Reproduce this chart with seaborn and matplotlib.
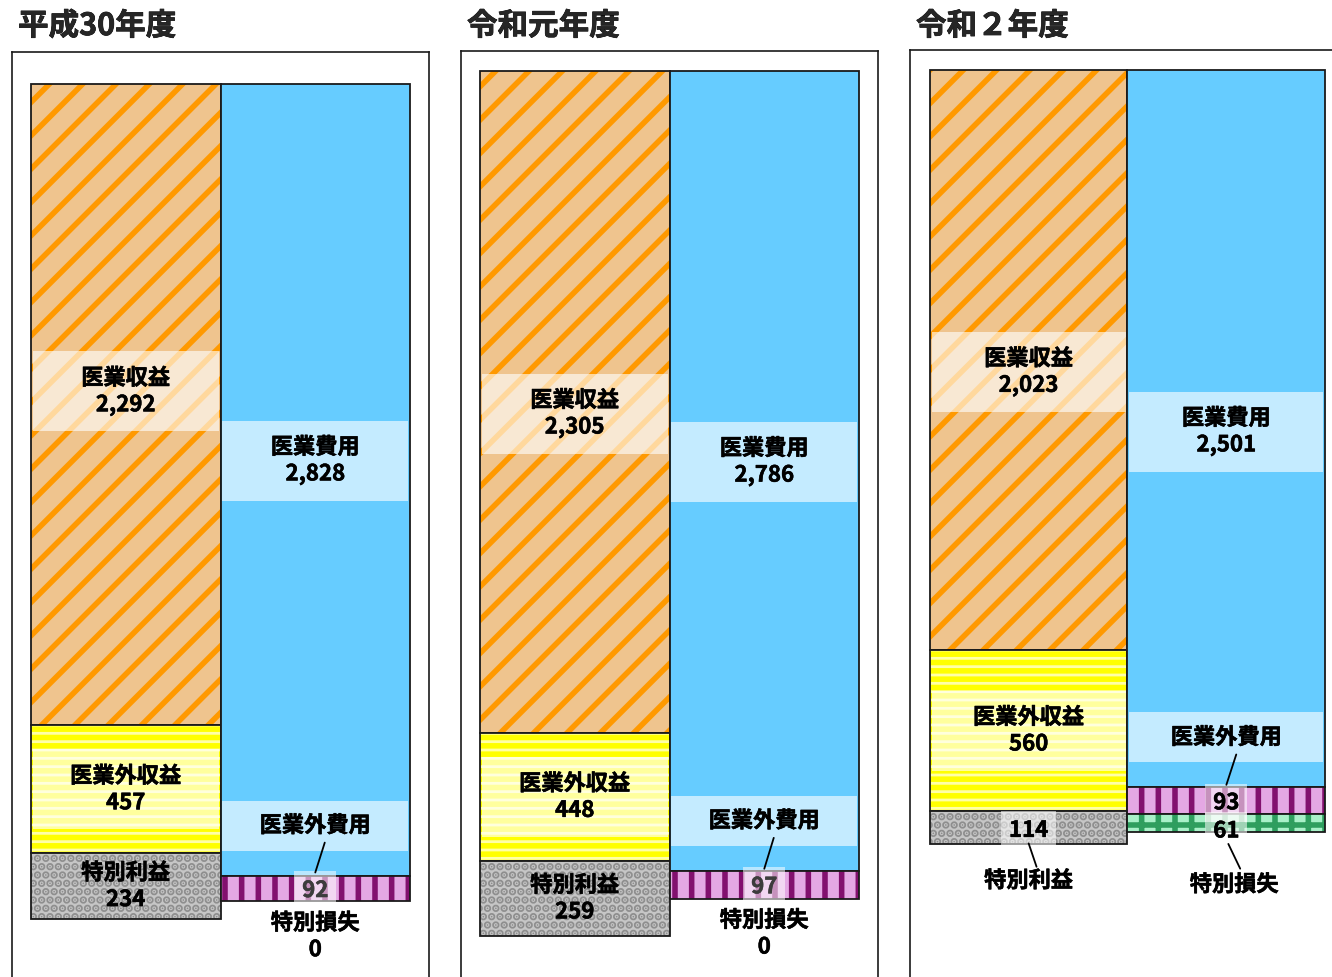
import matplotlib
matplotlib.use("Agg")
import matplotlib.pyplot as plt
import matplotlib.patheffects as pe
from matplotlib.patches import Rectangle
import seaborn as sns

# 年度ごとの収益・費用 (億円)
years = ["平成30年度", "令和元年度", "令和２年度"]
rev_names = ["医業収益", "医業外収益", "特別利益"]
exp_names = ["医業費用", "医業外費用", "特別損失"]
rev_h30 = [2292, 457, 234]
rev_r1 = [2305, 448, 259]
rev_r2 = [2023, 560, 114]
exp_h30 = [2828, 92, 0]
exp_r1 = [2786, 97, 0]
exp_r2 = [2501, 93, 61]

revs = [rev_h30, rev_r1, rev_r2]
exps = [exp_h30, exp_r1, exp_r2]

rev_styles = [
    dict(facecolor="#EFC48E", edgecolor="#FF9900", hatch="/"),
    dict(facecolor="#FFFFA8", edgecolor="#FFFF00", hatch="--"),
    dict(facecolor="#C6C6C6", edgecolor="#8E8E8E", hatch=".."),
]
exp_styles = [
    dict(facecolor="#66CCFF", edgecolor="#66CCFF", hatch=None),
    dict(facecolor="#E4A8E4", edgecolor="#82106E", hatch="|"),
    dict(facecolor="#A8F0C8", edgecolor="#2E9E5E", hatch="+"),
]

# panel frame (left, right, top), bar top and px per unit, all in pixels
panels = [(12, 429, 53, 84.5, 0.2801),
          (461, 878, 52, 71.7, 0.2872),
          (910, 1345, 50.5, 70.7, 0.2870)]
# hand placed label shifts (px) for the big segments, like the original
rev_shift = [-13, 12, 12]
exp_shift = [-19, -9, 3]

W, H = 1332, 978
BOT = 995
sns.set_style("white")
plt.rcParams["font.family"] = ["Noto Sans CJK JP", "DejaVu Sans"]
plt.rcParams["hatch.linewidth"] = 4.0
BOLD = [pe.withStroke(linewidth=0.4, foreground="black")]
FONT = dict(weight="bold", fontsize=16, color="black", path_effects=BOLD)
CATS = ["rev", "exp"]

fig = plt.figure(figsize=(W / 100, H / 100), dpi=100)


def segment(ax, cat, val, start, st):
    sns.barplot(x=[cat], y=[val], order=CATS, width=1.0, bottom=start,
                facecolor=st["facecolor"], edgecolor=st["edgecolor"],
                hatch=st["hatch"], linewidth=0, errorbar=None, ax=ax)
    sns.barplot(x=[cat], y=[val], order=CATS, width=1.0, bottom=start,
                facecolor="none", edgecolor="#1a1a1a", linewidth=1.3,
                errorbar=None, ax=ax)


def label_box(ax, xc, yc, h):
    ax.add_patch(Rectangle((xc - 0.49, yc - h / 2), 0.98, h,
                           facecolor="white", alpha=0.62, lw=0, zorder=4))


def small_value(ax, xc, yc, text, color="black"):
    ax.text(xc, yc, text, ha="center", va="center", zorder=6,
            **{**FONT, "color": color,
               "path_effects": [pe.withStroke(linewidth=0.4, foreground=color)]},
            bbox=dict(boxstyle="square,pad=0.35", fc="white", alpha=0.55, lw=0))


for k, (l, r, t, y0, s) in enumerate(panels):
    ax = fig.add_axes([l / W, 1 - BOT / H, (r - l) / W, (BOT - t) / H])
    px = lambda n: n / s

    for cat, vals, styles in [("rev", revs[k], rev_styles), ("exp", exps[k], exp_styles)]:
        start = 0
        for v, st in zip(vals, styles):
            if v > 0:
                segment(ax, cat, v, start, st)
            start += v

    ax.set_xlim(-0.6, 1.6)
    ax.set_ylim((BOT - y0) / s, -(y0 - t) / s)
    ax.set_xticks([])
    ax.set_yticks([])
    ax.set(xlabel="", ylabel="")
    for side in ["top", "left", "right"]:
        ax.spines[side].set_visible(True)
        ax.spines[side].set_color("#1a1a1a")
        ax.spines[side].set_linewidth(1.2)
    ax.spines["bottom"].set_visible(False)

    # revenue labels
    rv = revs[k]
    cum = 0
    for i, (name, v) in enumerate(zip(rev_names, rv)):
        mid = cum + v / 2
        if i == 0:
            mid += px(rev_shift[k])
        if i < 2:
            label_box(ax, 0, mid, px(80))
            ax.text(0, mid, f"{name}\n{v:,}", ha="center", va="center", zorder=6, **FONT)
        elif v >= 200:
            ax.text(0, mid, f"{name}\n{v:,}", ha="center", va="center", zorder=6, **FONT)
        else:
            small_value(ax, 0, mid + px(3), f"{v:,}")
            end = cum + v
            ax.plot([0.0, 0.04], [mid + px(16), end + px(23)], color="black", lw=1.3, zorder=7)
            ax.text(0, end + px(37), name, ha="center", va="center", zorder=6, **FONT)
        cum += v

    # expense labels
    ev = exps[k]
    cum = 0
    for i, (name, v) in enumerate(zip(exp_names, ev)):
        mid = cum + v / 2
        end = cum + v
        if i == 0:
            mid += px(exp_shift[k])
            label_box(ax, 1, mid, px(80))
            ax.text(1, mid, f"{name}\n{v:,}", ha="center", va="center", zorder=6, **FONT)
        elif i == 1:
            ly = cum - px(50)
            label_box(ax, 1, ly, px(50))
            ax.text(1, ly, name, ha="center", va="center", zorder=6, **FONT)
            ax.plot([1.05, 1.0], [ly + px(17), mid - px(16)], color="black", lw=1.3, zorder=7)
            small_value(ax, 1, mid + px(2), f"{v:,}", color="#3c3c3c" if k < 2 else "black")
        elif v == 0:
            ax.text(1, end + px(35), f"{name}\n{v:,}", ha="center", va="center", zorder=6, **FONT)
        else:
            small_value(ax, 1, mid + px(8), f"{v:,}")
            ax.plot([1.01, 1.07], [mid + px(21), end + px(37)], color="black", lw=1.3, zorder=7)
            ax.text(1.04, end + px(53), name, ha="center", va="center", zorder=6, **FONT)
        cum += v

    fig.text((l + 6) / W, 1 - 27 / H, years[k], ha="left", va="center",
             fontsize=22, weight="bold",
             path_effects=[pe.withStroke(linewidth=0.5, foreground="black")])

fig.savefig("out.png", dpi=100)
